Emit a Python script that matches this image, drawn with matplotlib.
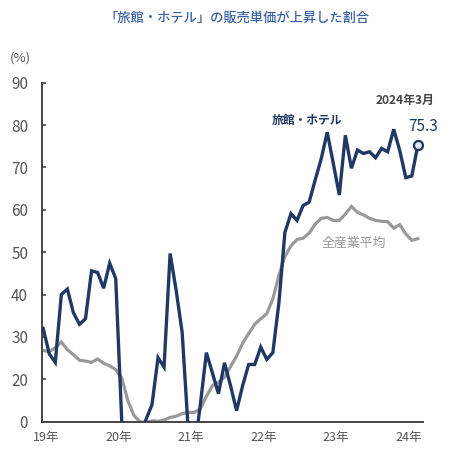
import matplotlib
matplotlib.use("Agg")
import matplotlib.pyplot as plt

plt.rcParams['font.family'] = ['Noto Sans CJK JP', 'DejaVu Sans']

# Monthly data, Jan 2019 .. Mar 2024 (63 months)
hotel = [32, 26, 24, 40, 41.3, 35.7, 33, 34.3, 45.6, 45.2, 41.5, 47.4,
         43.8, 10, 5, 5, 5, 10.5, 14, 25.1, 22.9, 49.7, 41, 31,
         8, 3, 14, 26.3, 21.5, 16.6, 23.9, 18.5, 12.6, 18.5, 23.5, 23.5,
         27.6, 24.7, 26.3, 38, 54.7, 59.1, 57.5, 61, 61.8, 67, 72, 78.3,
         71, 63.5, 77.6, 69.8, 74.1, 73.3, 73.7, 72.3, 74.5, 73.7, 79, 74,
         67.6, 68, 75.3]
all_ind = [26.8, 26.5, 27.5, 28.8, 27, 25.8, 24.5, 24.3, 24, 24.8, 23.8, 23.2,
           22.3, 20.3, 15, 11.5, 10, 9.8, 10.2, 10.1, 10.4, 11, 11.3, 11.9,
           12.2, 12.2, 13, 16, 18.5, 19.3, 20.5, 23, 25.5, 28.5, 30.8, 33,
           34.3, 35.5, 39, 44.5, 49, 51.5, 53, 53.3, 54.5, 56.6, 58, 58.2,
           57.5, 57.5, 59, 60.8, 59.4, 58.8, 58, 57.5, 57.3, 57.2, 55.7, 56.5,
           54.3, 52.8, 53.2]
year_labels = ["19年", "20年", "21年", "22年", "23年", "24年"]
ytick_vals = [10, 20, 30, 40, 50, 60, 70, 80, 90]
ytick_labels = ["0", "20", "30", "40", "50", "60", "70", "80", "90"]

title = "「旅館・ホテル」の販売単価が上昇した割合"
hotel_name = "旅館・ホテル"
avg_name = "全産業平均"
last_label = "2024年3月"

navy = "#1f3864"
gray = "#999999"
axis_col = "#444444"
text_gray = "#555555"

fig = plt.figure(figsize=(4.5, 4.62), dpi=100)
ax = fig.add_axes([42/450, 1-421.7/462, (422.7-42)/450, (421.7-82.7)/462])

x = list(range(len(hotel)))
ax.plot(x, all_ind, color=gray, lw=2.3, solid_joinstyle='miter', zorder=2)
ax.plot(x, hotel, color=navy, lw=2.4, solid_joinstyle='miter', zorder=3)
ax.plot([x[-1]], [hotel[-1]], marker='o', ms=6.5, mfc='#dfe4ee', mec=navy,
        mew=1.6, zorder=4)

ax.set_xlim(-0.2, 62.8)
ax.set_ylim(10, 90)
ax.set_yticks(ytick_vals)
ax.set_yticklabels(ytick_labels)
ax.set_xticks([12*k + 0.45 for k in range(len(year_labels))])
ax.set_xticklabels(year_labels)

for s in ['top', 'right']:
    ax.spines[s].set_visible(False)
for s in ['left', 'bottom']:
    ax.spines[s].set_color(axis_col)
    ax.spines[s].set_linewidth(1.4)
ax.tick_params(axis='y', direction='in', length=3, width=1.2, color=axis_col,
               pad=10, labelsize=11, labelcolor=text_gray)
ax.tick_params(axis='x', length=0, pad=7, labelsize=9, labelcolor=text_gray)

fig.text(0.527, 0.961, title, ha='center', va='center', fontsize=9.5,
         color='#3a62a6', fontweight='medium')
fig.text(0.046, 0.874, "(%)", ha='center', va='center', fontsize=9.5,
         color=text_gray)

fig.text(307.5/450, 1-120.7/462, hotel_name, ha='center', va='center',
         fontsize=8.5, color=navy, fontweight='bold')
fig.text(354/450, 1-243/462, avg_name, ha='center', va='center',
         fontsize=9.3, color=gray)
ax.annotate(f"{hotel[-1]:.1f}", xy=(x[-1], hotel[-1]), xytext=(5, 18),
            textcoords='offset pixels', ha='center', va='center',
            fontsize=11, color=navy, annotation_clip=False)
ax.annotate(last_label, xy=(x[-1], hotel[-1]), xytext=(-12.5, 44.3),
            textcoords='offset pixels', ha='center', va='center',
            fontsize=8.6, color='#444444', fontweight='bold',
            annotation_clip=False)

fig.savefig("out.png", dpi=100)
